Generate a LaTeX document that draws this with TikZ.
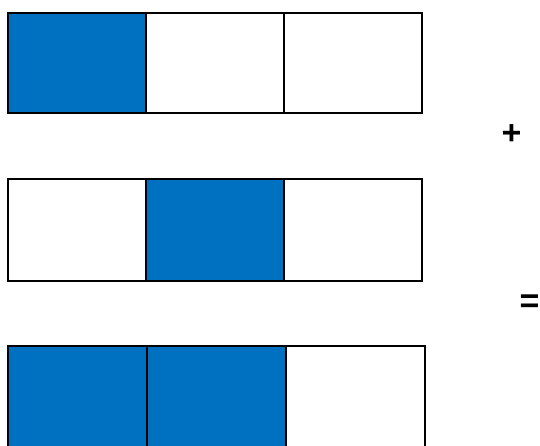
\documentclass[tikz,border=0pt]{standalone}
\usepackage{fontspec}
\setmainfont{Liberation Sans}
\usepackage{xcolor}
\usetikzlibrary{positioning}
\definecolor{fracblue}{HTML}{0070C0}

\begin{document}
\begin{tikzpicture}[
  x=1pt, y=-1pt,
  cell/.style={
    draw=black,
    line width=2pt,
    inner sep=0pt,
    outer sep=0pt,
    minimum width=138pt,
    minimum height=100pt,
    fill=white
  },
  shaded/.style={cell, fill=fracblue},
  sign/.style={font=\fontsize{34}{40}\selectfont\bfseries, inner sep=0pt}
]
  \clip (0,0) rectangle (540,445);

  % First row: 1/3
  \node[shaded, anchor=north west] (a1) at (8,13) {};
  \node[cell, right=0pt of a1] (a2) {};
  \node[cell, right=0pt of a2] (a3) {};

  % Second row: 1/3
  \node[cell, anchor=north west, minimum height=102pt] (b1) at (8,179) {};
  \node[shaded, right=0pt of b1, minimum height=102pt] (b2) {};
  \node[cell, right=0pt of b2, minimum height=102pt] (b3) {};

  % Third row: 2/3
  \node[shaded, anchor=north west, minimum width=139pt, minimum height=102pt] (c1) at (8,346) {};
  \node[shaded, right=0pt of c1, minimum width=139pt, minimum height=102pt] (c2) {};
  \node[cell, right=0pt of c2, minimum width=139pt, minimum height=102pt] (c3) {};

  \node[sign] (plus) at (511.5,135) {+};
  \node[sign] (equals) at (529.5,303.5) {=};
\end{tikzpicture}
\end{document}
